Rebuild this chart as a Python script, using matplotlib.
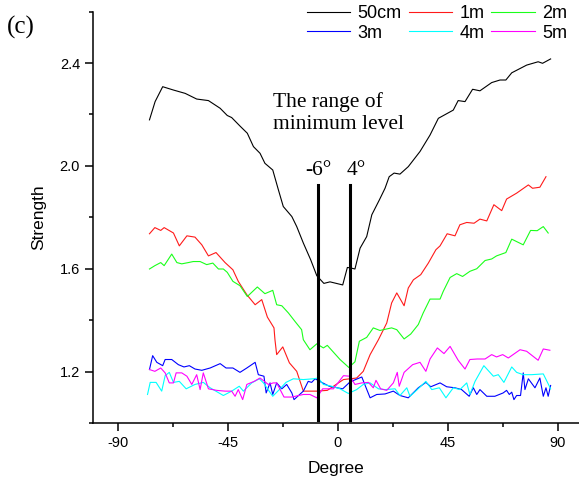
"""
Strength vs. degree for six distances, panel (c)
"""

import matplotlib.pyplot as plt
from matplotlib.ticker import MultipleLocator

plt.rcParams.update(
    {
        "font.family": ["Liberation Sans", "DejaVu Sans"],
        "font.size": 10.5,
        "axes.linewidth": 1.1,
        "axes.unicode_minus": False,
        "xtick.direction": "out",
        "ytick.direction": "out",
    }
)
SERIF = ["Liberation Serif", "DejaVu Serif"]

# 50cm
deg_50cm = [-77.0, -74.7, -71.6, -67.2, -62.4, -57.7, -52.9, -48.1, -45.2, -43.4, -40.0, -37.0,
            -34.5, -31.8, -29.8, -26.6, -24.3, -22.3, -18.8, -16.8, -14.1, -11.1, -8.6, -5.7,
            -3.2, 2.0, 3.9, 5.3, 7.0, 9.1, 11.8, 13.9, 17.0, 19.3, 21.0, 23.0, 25.4, 28.8, 33.6,
            37.7, 41.1, 47.2, 49.2, 52.0, 55.1, 58.1, 62.9, 66.3, 68.7, 71.1, 77.2, 81.9, 83.7, 87.0]
val_50cm = [2.179, 2.250, 2.308, 2.295, 2.282, 2.260, 2.254, 2.224, 2.196, 2.188, 2.155, 2.127,
            2.075, 2.049, 2.010, 1.984, 1.907, 1.842, 1.803, 1.764, 1.700, 1.635, 1.573, 1.543,
            1.549, 1.537, 1.605, 1.603, 1.599, 1.680, 1.725, 1.810, 1.868, 1.913, 1.958, 1.972,
            1.968, 1.997, 2.056, 2.120, 2.185, 2.217, 2.254, 2.250, 2.298, 2.292, 2.324, 2.334,
            2.334, 2.362, 2.392, 2.405, 2.399, 2.416]

# 1m
deg_1m = [-77.0, -74.8, -72.4, -71.0, -67.2, -64.8, -61.7, -58.4, -55.6, -52.9, -49.8, -46.1,
          -42.9, -40.7, -37.2, -33.8, -31.1, -28.8, -26.1, -25.7, -25.0, -22.5, -19.8, -16.8,
          -14.1, -8.6, -4.3, 2.3, 7.7, 10.4, 13.2, 16.6, 20.0, 22.0, 24.1, 27.1, 28.8, 30.9,
          33.9, 37.0, 40.1, 41.8, 44.7, 47.9, 49.9, 52.7, 55.7, 58.1, 60.9, 63.8, 67.0, 69.0,
          73.1, 77.9, 79.6, 82.6, 85.1]
val_1m = [1.736, 1.760, 1.749, 1.760, 1.739, 1.689, 1.728, 1.723, 1.693, 1.650, 1.663, 1.624,
          1.596, 1.551, 1.499, 1.460, 1.480, 1.412, 1.370, 1.324, 1.266, 1.296, 1.234, 1.201,
          1.124, 1.124, 1.127, 1.169, 1.175, 1.201, 1.266, 1.324, 1.389, 1.467, 1.506, 1.456,
          1.525, 1.557, 1.577, 1.622, 1.674, 1.689, 1.736, 1.728, 1.771, 1.780, 1.777, 1.793,
          1.786, 1.849, 1.826, 1.871, 1.894, 1.926, 1.913, 1.917, 1.958]

# 2m
deg_2m = [-77.0, -74.8, -72.4, -71.0, -67.9, -65.8, -63.8, -61.1, -59.1, -56.3, -53.6, -51.1,
          -48.8, -46.8, -45.2, -42.9, -40.0, -37.0, -32.9, -29.8, -26.6, -25.0, -22.9, -20.2,
          -17.5, -14.8, -14.1, -11.4, -8.6, -5.9, -4.3, 0.9, 4.5, 7.0, 8.8, 11.8, 14.5, 17.2,
          22.0, 24.1, 27.1, 29.8, 32.9, 34.9, 37.7, 41.8, 43.1, 45.9, 48.6, 51.0, 54.0, 56.8,
          60.2, 62.9, 64.9, 68.7, 71.1, 75.8, 78.8, 81.5, 84.0, 86.0]
val_2m = [1.599, 1.612, 1.624, 1.612, 1.657, 1.624, 1.619, 1.624, 1.628, 1.628, 1.616, 1.622,
          1.599, 1.599, 1.586, 1.551, 1.534, 1.492, 1.529, 1.503, 1.516, 1.460, 1.456, 1.428,
          1.395, 1.363, 1.324, 1.285, 1.308, 1.292, 1.302, 1.247, 1.216, 1.238, 1.318, 1.333,
          1.370, 1.360, 1.370, 1.363, 1.327, 1.346, 1.383, 1.428, 1.482, 1.482, 1.512, 1.566,
          1.581, 1.570, 1.590, 1.600, 1.632, 1.638, 1.650, 1.663, 1.715, 1.693, 1.749, 1.748,
          1.764, 1.739]

# 3m
deg_3m = [-77.0, -75.7, -74.0, -71.6, -70.6, -67.9, -65.2, -62.9, -60.7, -58.4, -55.6, -52.2,
          -48.1, -45.7, -42.9, -40.0, -37.2, -33.8, -32.5, -30.2, -29.3, -27.7, -26.6, -25.0,
          -22.9, -20.9, -18.8, -17.9, -14.1, -12.1, -10.7, -9.3, -6.6, -3.5, 2.0, 5.0, 9.8,
          13.2, 15.9, 19.3, 22.7, 25.4, 28.8, 32.9, 36.0, 38.0, 41.8, 44.5, 47.9, 50.6, 53.7,
          55.4, 56.8, 58.1, 60.9, 64.2, 67.6, 69.0, 70.1, 71.1, 72.0, 73.1, 74.7, 75.8, 76.5,
          77.9, 80.6, 82.6, 84.0, 85.1, 86.0, 87.0]
val_3m = [1.208, 1.262, 1.236, 1.223, 1.247, 1.247, 1.227, 1.218, 1.223, 1.210, 1.205, 1.214,
          1.231, 1.214, 1.214, 1.197, 1.214, 1.236, 1.188, 1.182, 1.117, 1.156, 1.111, 1.156,
          1.133, 1.150, 1.117, 1.091, 1.124, 1.162, 1.158, 1.172, 1.158, 1.143, 1.133, 1.160,
          1.179, 1.098, 1.111, 1.113, 1.124, 1.107, 1.098, 1.137, 1.158, 1.141, 1.156, 1.141,
          1.137, 1.130, 1.104, 1.137, 1.111, 1.130, 1.104, 1.104, 1.117, 1.127, 1.111, 1.120,
          1.091, 1.107, 1.107, 1.195, 1.130, 1.172, 1.137, 1.175, 1.104, 1.137, 1.104, 1.146]

# 4m
deg_4m = [-77.8, -76.7, -74.3, -72.0, -70.6, -68.9, -67.2, -64.8, -62.0, -58.4, -55.0, -52.2,
          -46.8, -43.4, -40.3, -38.6, -35.2, -32.1, -30.4, -26.6, -23.6, -21.2, -18.2, -14.1,
          -10.0, -8.0, -5.9, -2.5, 0.9, 4.3, 7.7, 10.4, 13.2, 16.6, 19.3, 23.4, 25.4, 28.2,
          29.5, 32.5, 36.0, 38.4, 41.5, 44.2, 47.2, 49.9, 52.7, 54.0, 56.1, 59.7, 63.6, 65.6,
          67.9, 71.1, 73.1, 75.8, 79.2, 84.0, 87.0]
val_4m = [1.111, 1.158, 1.158, 1.124, 1.184, 1.197, 1.158, 1.162, 1.133, 1.150, 1.158, 1.137,
          1.107, 1.124, 1.143, 1.124, 1.156, 1.172, 1.156, 1.104, 1.133, 1.158, 1.172, 1.169,
          1.172, 1.175, 1.150, 1.143, 1.133, 1.115, 1.130, 1.150, 1.156, 1.133, 1.130, 1.133,
          1.107, 1.137, 1.104, 1.130, 1.162, 1.130, 1.137, 1.098, 1.137, 1.130, 1.156, 1.111,
          1.162, 1.223, 1.182, 1.188, 1.158, 1.218, 1.197, 1.188, 1.188, 1.191, 1.133]

# 5m
deg_5m = [-77.0, -74.8, -72.4, -70.6, -68.9, -67.2, -66.1, -63.8, -61.7, -59.7, -57.7, -56.3,
          -55.0, -52.9, -49.5, -46.1, -43.4, -42.0, -40.7, -38.9, -37.2, -34.2, -31.8, -28.4,
          -26.4, -25.0, -22.0, -18.8, -14.1, -11.4, -8.6, -6.2, -1.8, 2.3, 5.0, 7.0, 9.8, 12.5,
          14.5, 15.6, 17.5, 20.0, 22.7, 24.3, 25.1, 27.1, 30.6, 33.6, 36.0, 37.7, 40.7, 43.4,
          45.9, 49.2, 52.0, 54.0, 57.0, 60.2, 62.9, 64.9, 67.4, 69.7, 74.5, 77.2, 81.9, 84.0, 86.7]
val_5m = [1.208, 1.201, 1.214, 1.195, 1.156, 1.156, 1.195, 1.195, 1.182, 1.150, 1.188, 1.130,
          1.195, 1.133, 1.127, 1.124, 1.124, 1.104, 1.130, 1.091, 1.150, 1.162, 1.175, 1.150,
          1.156, 1.156, 1.101, 1.101, 1.111, 1.111, 1.098, 1.133, 1.133, 1.184, 1.182, 1.150,
          1.156, 1.158, 1.137, 1.166, 1.133, 1.127, 1.156, 1.197, 1.143, 1.197, 1.227, 1.236,
          1.201, 1.249, 1.292, 1.270, 1.298, 1.244, 1.210, 1.247, 1.249, 1.249, 1.266, 1.257,
          1.266, 1.253, 1.285, 1.279, 1.244, 1.288, 1.283]

labels = ["50cm", "1m", "2m", "3m", "4m", "5m"]
colors = ["#000000", "#ff1a1a", "#1aff1a", "#0000ff", "#00ffff", "#ff00ff"]
series = [
    (deg_50cm, val_50cm),
    (deg_1m, val_1m),
    (deg_2m, val_2m),
    (deg_3m, val_3m),
    (deg_4m, val_4m),
    (deg_5m, val_5m),
]

# range of minimum level
range_lines = [-8.2, 4.9]
range_labels = ["-6°", "4°"]

fig = plt.figure(figsize=(5.79, 4.84), dpi=100)
ax = fig.add_axes([0.161, 0.126, 0.839, 0.850])

handles = []
for (x, y), label, color in zip(series, labels, colors):
    (h,) = ax.plot(x, y, color=color, lw=0.8, label=label)
    handles.append(h)

for xl in range_lines:
    ax.plot([xl, xl], [1.01, 1.925], color="black", lw=2.2)
for xl, txt, dx in zip(range_lines, range_labels, [0.2, 2.5]):
    ax.text(xl + dx, 1.965, txt, fontsize=15.5, family=SERIF, ha="center", va="baseline")

ax.text(-26.5, 2.205, "The range of\nminimum level", fontsize=15.5, family=SERIF,
        ha="left", va="center", linespacing=1.25)

ax.set_xlim(-100, 98.6)
ax.set_ylim(1.0, 2.6)
ax.xaxis.set_major_locator(MultipleLocator(45))
ax.xaxis.set_minor_locator(MultipleLocator(22.5))
ax.yaxis.set_major_locator(MultipleLocator(0.4))
ax.yaxis.set_minor_locator(MultipleLocator(0.2))
ax.set_yticks([1.2, 1.6, 2.0, 2.4])
ax.tick_params(which="major", length=6, width=1.1)
ax.tick_params(which="minor", length=3, width=1.1)
ax.spines["top"].set_visible(False)
ax.spines["right"].set_visible(False)
ax.set_xlabel("Degree", fontsize=12.5, labelpad=8)
ax.set_ylabel("Strength", fontsize=12.5, labelpad=10)

# legend in row order: 50cm 1m 2m / 3m 4m 5m
order = [0, 3, 1, 4, 2, 5]
fig.legend([handles[i] for i in order], [labels[i] for i in order], ncol=3,
           loc="upper right", bbox_to_anchor=(0.998, 1.012), frameon=False, fontsize=13,
           handlelength=2.4, handletextpad=0.4, columnspacing=0.4, labelspacing=0.15,
           borderpad=0.1)

fig.text(0.012, 0.968, "(c)", fontsize=18, family=SERIF, ha="left", va="top")

fig.savefig("out.png", dpi=100, facecolor="white")
plt.close(fig)
